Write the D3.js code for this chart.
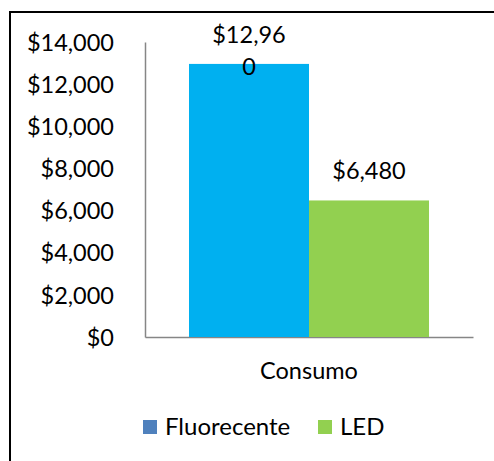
<!DOCTYPE html>
<html>
<head>
<meta charset="utf-8">
<script src="https://cdn.jsdelivr.net/npm/d3@7"></script>
<style>
  html, body { margin: 0; padding: 0; background: #fff; }
  svg { display: block; }
  text { font-family: Lato, "Open Sans", sans-serif; fill: #000; }
</style>
</head>
<body>
<div id="chart"></div>
<script>
// Cost comparison: fluorescent vs LED lighting
const categories = ["Consumo"];
const seriesNames = ["Fluorecente", "LED"];
const seriesValues = [12960, 6480];
const barColors = ["#00B0F0", "#92D050"];
const legendColors = ["#4F81BD", "#92D050"];
const yTicks = [0, 2000, 4000, 6000, 8000, 10000, 12000, 14000];

const W = 494, H = 461;
const FS = 23.5;
const svg = d3.select("#chart").append("svg").attr("width", W).attr("height", H);

// chart frame, running off the right and bottom edges
svg.append("rect")
  .attr("x", 10).attr("y", 12).attr("width", 500).attr("height", 470)
  .attr("fill", "none").attr("stroke", "#000").attr("stroke-width", 2);

const plot = { left: 145, right: 473, top: 42, bottom: 337 };

const y = d3.scaleLinear().domain([0, 14000]).range([plot.bottom, plot.top]);
const x0 = d3.scaleBand().domain(categories).range([plot.left, plot.right]).paddingInner(0).paddingOuter(0.1833);
const x1 = d3.scaleBand().domain(seriesNames).range([0, x0.bandwidth()]).padding(0);

const fmt = v => "$" + d3.format(",")(v);

// y axis
const yAxis = d3.axisLeft(y).tickValues(yTicks).tickFormat(fmt).tickSize(0).tickPadding(31);
const gy = svg.append("g").attr("transform", `translate(${plot.left},0)`).call(yAxis);
gy.select(".domain").attr("stroke", "#868686").attr("stroke-width", 1.5);
gy.selectAll("text").attr("font-size", FS).attr("font-family", "Lato, sans-serif").attr("dy", "0.35em");

// x axis
const xAxis = d3.axisBottom(x0).tickSize(0);
const gx = svg.append("g").attr("transform", `translate(0,${plot.bottom})`).call(xAxis);
gx.select(".domain").attr("stroke", "#868686").attr("stroke-width", 1.5);
gx.selectAll("text").attr("font-size", FS).attr("font-family", "Lato, sans-serif").attr("y", 42).attr("dy", 0);

// bars
const groups = svg.selectAll("g.cat").data(categories).enter().append("g")
  .attr("class", "cat").attr("transform", d => `translate(${x0(d)},0)`);

groups.selectAll("rect").data(seriesNames.map((s, i) => ({ s, v: seriesValues[i], c: barColors[i] })))
  .enter().append("rect")
  .attr("x", d => x1(d.s))
  .attr("width", x1.bandwidth())
  .attr("y", d => y(d.v))
  .attr("height", d => plot.bottom - y(d.v))
  .attr("fill", d => d.c);

// value labels (the long one wraps onto a second line)
const labelLines = v => {
  const s = fmt(v);
  return s.length > 6 ? [s.slice(0, 6), s.slice(6)] : [s];
};
groups.selectAll("text.val").data(seriesNames.map((s, i) => ({ s, v: seriesValues[i] })))
  .enter().append("text")
  .attr("class", "val")
  .attr("text-anchor", "middle")
  .attr("font-size", FS)
  .each(function (d) {
    const lines = labelLines(d.v);
    const cx = x1(d.s) + x1.bandwidth() / 2;
    const top = y(d.v) - 21;
    d3.select(this).selectAll("tspan").data(lines).enter().append("tspan")
      .attr("x", cx)
      .attr("y", (l, j) => top + j * 32)
      .text(l => l);
  });

// legend
const legendItems = [
  { name: seriesNames[0], color: legendColors[0], x: 143 },
  { name: seriesNames[1], color: legendColors[1], x: 318 }
];
const lg = svg.append("g").selectAll("g").data(legendItems).enter().append("g")
  .attr("transform", d => `translate(${d.x},420)`);
lg.append("rect").attr("width", 14).attr("height", 14).attr("fill", d => d.color);
lg.append("text").attr("x", 22).attr("y", 15).attr("font-size", 24).text(d => d.name);
</script>
</body>
</html>
